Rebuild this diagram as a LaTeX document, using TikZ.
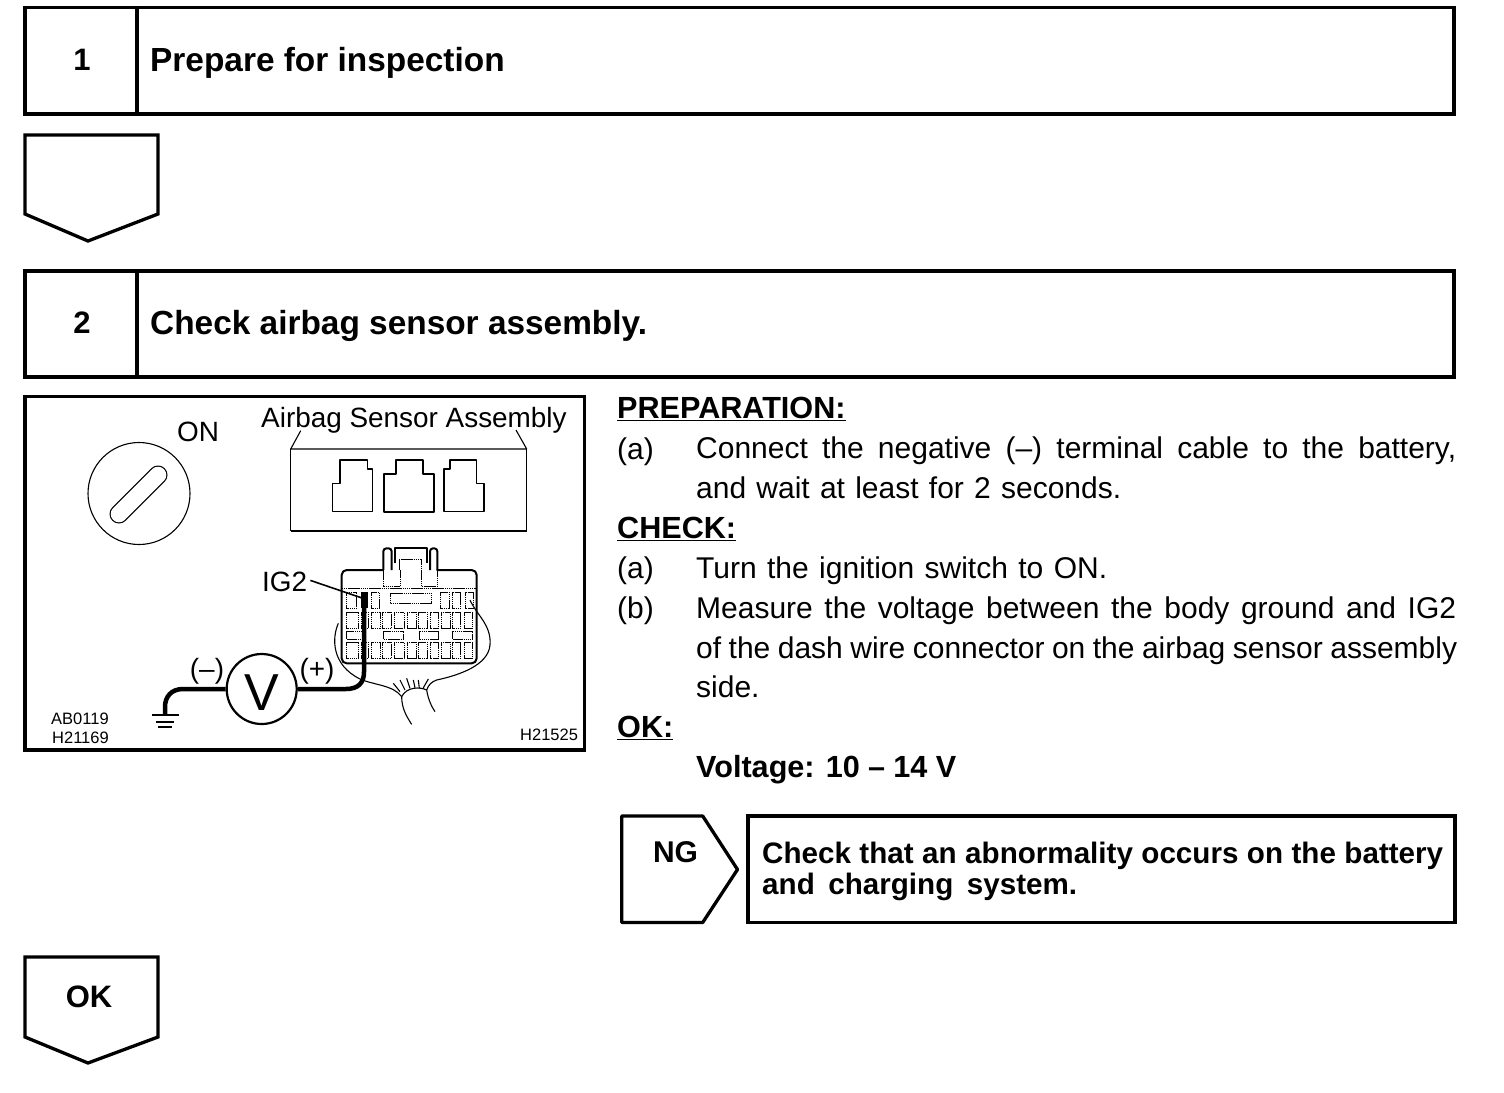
\documentclass[tikz,border=0pt]{standalone}
\usepackage{fontspec}
\setmainfont{Liberation Sans}
\newcommand{\fs}[1]{\fontsize{#1}{#1}\selectfont}
\newcommand{\ul}[1]{\underline{#1}}
\newcommand{\fitw}[2]{\makebox[#1pt][s]{#2}}
\tikzset{
  frame/.style={draw=black,line width=3.3pt,fill=white},
  title/.style={anchor=base west,inner sep=0pt,font=\fs{33.4}\bfseries},
  num/.style={inner sep=0pt,font=\fs{31}\bfseries},
  body/.style={anchor=base west,inner sep=0pt,font=\fs{30}},
  bodyb/.style={anchor=base west,inner sep=0pt,font=\fs{30.6}\bfseries},
  lab/.style={inner sep=0pt,font=\fs{27.9}},
  code/.style={anchor=base west,inner sep=0pt,font=\fs{16.5}},
  thinl/.style={line width=1.1pt,line join=round},
  med/.style={line width=2pt,line join=round},
  lite/.style={line width=1.4pt,line join=round},
  dots/.style={line width=1pt,dash pattern=on 1.6pt off .5pt},
  wire/.style={line width=4.5pt,line cap=butt},
}
\begin{document}
\begin{tikzpicture}[x=1pt,y=-1pt]
\useasboundingbox (0,0) rectangle (1504,1092);
\fill[white] (0,0) rectangle (1504,1092);
% step headers
\draw[frame] (25,7.5) rectangle (1454,114);
\draw[frame] (137,7.5) -- (137,114);
\node[num] (n1) at (82,60) {1};
\node[title] (t1) at (150,71) {Prepare for inspection};
\draw[frame] (25,135) -- (158,135) -- (158,214) -- (88,241) -- (25,214) -- cycle;
\draw[frame] (25,271) rectangle (1454,377);
\draw[frame] (137,271) -- (137,377);
\node[num] (n2) at (82,323) {2};
\node[title] (t2) at (150,334) {Check airbag sensor assembly.};
% figure frame
\draw[frame] (25,396.5) rectangle (584.5,750);
% key
\draw[thinl] (139,493.5) circle (51);
\draw[line width=19pt,line cap=round] (119,514) -- (158,475);
\draw[white,line width=16.6pt,line cap=round] (119,514) -- (158,475);
\node[lab] (on) at (198,431.5) {ON};
% sensor assembly
\node[lab,anchor=base west] (asm) at (261,427) {Airbag Sensor Assembly};
\draw[thinl] (300.7,430.7) -- (290.7,449) -- (526.7,449) -- (516,430);
\draw[thinl] (290.7,449) -- (290.7,530.7);
\draw[thinl] (526.7,449) -- (526.7,530.7);
\draw[med] (290.7,530.7) -- (526.7,530.7);
\begin{scope}[shift={(280,395)},scale=1/3]
\draw[lite] (180,195) -- (262,195) -- (262,222) -- (278,222) -- (278,350) -- (158,350) -- (158,265) -- (180,265) -- cycle;
\draw[med] (312,238) -- (347,238) -- (347,195) -- (428,195) -- (428,238) -- (463,238) -- (463,350) -- (312,350) -- cycle;
\draw[lite] (510,195) -- (590,195) -- (590,265) -- (612,265) -- (612,350) -- (492,350) -- (492,222) -- (510,222) -- cycle;
\end{scope}
% connector
\begin{scope}[shift={(300,535)},scale=1/3]
\draw[med,rounded corners=5pt] (250,105) -- (125,105) -- (125,385) -- (530,385) -- (530,105) -- (410,105);
\draw[med,rounded corners=3pt] (250,105) -- (250,40) -- (275,40) -- (275,105);
\draw[med,rounded corners=3pt] (390,105) -- (390,40) -- (412,40) -- (412,105);
\draw[med] (285,85) -- (285,38) -- (380,38) -- (380,85);
\draw[dots] (298,105) -- (298,72) -- (365,72) -- (365,105);
\draw[dots] (250,105) -- (250,155) -- (300,155) -- (300,105);
\draw[dots] (365,105) -- (365,155) -- (412,155) -- (412,105);
\draw[dots] (125,160) -- (530,160);
\draw[dots] (270,175) rectangle (395,205);
\foreach \a/\b in {140/170,215/238,422/448,458/482,495/520} \draw[dots] (\a,172) rectangle (\b,220);
\foreach \a/\b in {140/175,185/205,215/240,248/275,283/312,322/348,356/382,390/415,424/450,458/482,493/518} {
  \draw[dots] (\a,232) rectangle (\b,280);
  \draw[dots] (\a,322) rectangle (\b,370);
}
\foreach \a/\b in {140/190,250/310,357/415,458/518} \draw[dots] (\a,288) rectangle (\b,312);
\draw[thinl] (115,265) .. controls (95,310) and (95,390) .. (180,432) .. controls (220,450) and (280,450) .. (305,485);
\draw[thinl] (510,195) .. controls (530,240) and (575,270) .. (570,330) .. controls (565,390) and (480,420) .. (410,435) .. controls (395,440) and (385,450) .. (380,465);
\draw[thinl] (305,485) .. controls (320,455) and (360,455) .. (380,465);
\draw[thinl] (305,485) .. controls (305,520) and (320,545) .. (335,568);
\draw[thinl] (380,465) .. controls (385,495) and (395,515) .. (405,530);
\foreach \a/\b/\c/\d in {280/445/300/470,300/435/315/465,320/430/330/460,340/435/345/458,355/435/358/460,385/432/368/462}
  \draw[thinl] (\a,\b) -- (\c,\d);
\end{scope}
% IG2
\node[lab,anchor=base west] (ig) at (262,591) {IG2};
\coordinate (igend) at (362,598);
\draw[line width=1.6pt] (ig.east) ++(3,-1) -- (igend);
% voltmeter and wires
\node[draw,circle,line width=2.2pt,minimum size=70pt,inner sep=0pt] (v) at (261.7,689) {};
\node[inner sep=0pt,font=\fs{52}] (vl) at (261.7,692.5) {V};
\coordinate (pin) at (364,592);
\coordinate (gnd) at (165,715);
\draw[wire] (v.east) -- (346,689) .. controls (358,689) and (364,683) .. (364,672) -- (pin);
\draw[line width=7pt] (364.5,592) -- (364.5,608);
\draw[wire] (v.west) -- (183,689) .. controls (171,689) and (165,697) .. (165,707) -- (gnd);
\draw[line width=2pt] (152,715) -- (179,715);
\draw[line width=1.5pt] (156,722) -- (174,722);
\draw[line width=1.5pt] (158,727) -- (172,727);
\node[lab] (minus) at (207,671) {(–)};
\node[lab] (plus) at (317,671) {(+)};
\node[code] (c1) at (51,724) {AB0119};
\node[code] (c2) at (52,743) {H21169};
\node[code] (c3) at (520,740) {H21525};
% right text
\node[bodyb] (prep) at (617,418) {\ul{PREPARATION:}};
\node[body] (a1) at (617,459) {(a)};
\node[body] (a1t) at (696,458.5) {\fitw{760}{Connect the negative (–) terminal cable to the battery,}};
\node[body] (a1u) at (696,498.5) {\fitw{425}{and wait at least for 2 seconds.}};
\node[bodyb] (chk) at (617,538) {\ul{CHECK:}};
\node[body] (a2) at (617,578) {(a)};
\node[body] (a2t) at (696,578) {\fitw{411}{Turn the ignition switch to ON.}};
\node[body] (b2) at (617,618) {(b)};
\node[body] (b2t) at (696,618) {\fitw{760}{Measure the voltage between the body ground and IG2}};
\node[body] (b2u) at (696,658) {\fitw{761}{of the dash wire connector on the airbag sensor assembly}};
\node[body] (b2v) at (696,697.5) {side.};
\node[bodyb] (ok) at (617,737) {\ul{OK:}};
\node[bodyb] (volt) at (696,777) {\fitw{260}{Voltage: 10 – 14 V}};
% NG
\draw[frame,line join=round] (621.7,816) -- (702.7,816) -- (737.5,869.5) -- (702.7,922.5) -- (621.7,922.5) -- cycle;
\node[num,font=\fs{30}\bfseries] (ng) at (675.5,852) {NG};
\draw[frame] (748,816) rectangle (1455,922.5);
\node[bodyb,font=\fs{29.6}\bfseries] (ngt1) at (762,863) {\fitw{681}{Check that an abnormality occurs on the battery}};
\node[bodyb,font=\fs{29.6}\bfseries] (ngt2) at (762,894) {\fitw{315}{and charging system.}};
% OK arrow
\draw[frame] (25,957) -- (158,957) -- (158,1037) -- (88,1063) -- (25,1037) -- cycle;
\node[num] (okn) at (89,997) {OK};
\end{tikzpicture}
\end{document}
